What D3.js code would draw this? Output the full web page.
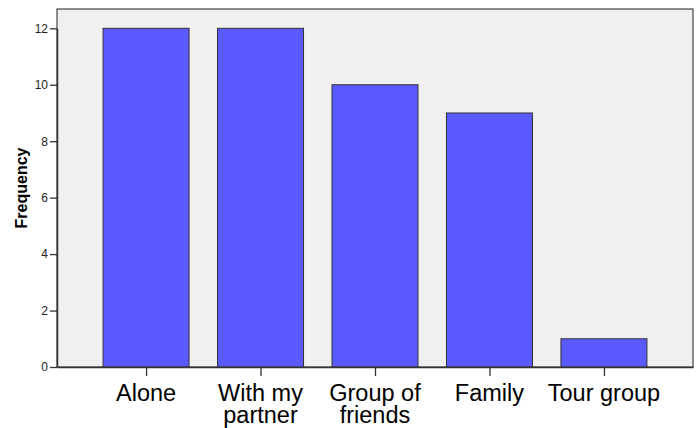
<!DOCTYPE html>
<html><head><meta charset="utf-8">
<script src="https://cdn.jsdelivr.net/npm/d3@7"></script>
<style>body{margin:0;background:#fff;}svg{display:block;}</style>
</head><body>
<script>
const categories = ["Alone", "With my partner", "Group of friends", "Family", "Tour group"];
const categoryLines = [["Alone"], ["With my", "partner"], ["Group of", "friends"], ["Family"], ["Tour group"]];
const frequencies = [12, 12, 10, 9, 1];
const yTicks = [0, 2, 4, 6, 8, 10, 12];

const W = 698, H = 428;
const L = 57, R = 693, T = 9, B = 367;
const svg = d3.select("body").append("svg").attr("width", W).attr("height", H);

const x = d3.scalePoint().domain(categories).range([L, R]).padding(0.778);
const y = d3.scaleLinear().domain([0, 12]).range([B, 28.3]);
const barW = 86;

svg.append("rect").attr("x", L).attr("y", T).attr("width", R - L).attr("height", B - T)
  .attr("fill", "#f0f0f0").attr("stroke", "#444").attr("stroke-width", 1.2);

svg.selectAll("rect.bar").data(frequencies).enter().append("rect").attr("class", "bar")
  .attr("x", (d, i) => x(categories[i]) - barW / 2)
  .attr("y", d => y(d))
  .attr("width", barW)
  .attr("height", d => B - y(d))
  .attr("fill", "#5a5aff").attr("stroke", "#333").attr("stroke-width", 1);

const yAxis = svg.append("g").attr("transform", `translate(${L},0)`)
  .call(d3.axisLeft(y).tickValues(yTicks).tickSize(7).tickSizeOuter(0).tickPadding(2).tickFormat(d3.format("d")));
yAxis.select(".domain").attr("stroke", "#333").attr("stroke-width", 1.5);
yAxis.selectAll(".tick line").attr("stroke", "#333").attr("stroke-width", 1.3);
yAxis.selectAll("text").attr("font-family", "Arial, 'Liberation Sans', sans-serif").attr("font-size", 12).attr("fill", "#222");

const xAxis = svg.append("g").attr("transform", `translate(0,${B})`)
  .call(d3.axisBottom(x).tickSize(9).tickSizeOuter(0).tickFormat(""));
xAxis.select(".domain").attr("stroke", "#333").attr("stroke-width", 1.5);
xAxis.selectAll(".tick line").attr("stroke", "#333").attr("stroke-width", 1.3);

svg.selectAll("text.xl").data(categories).enter().append("text").attr("class", "xl")
  .attr("x", d => x(d)).attr("y", 401)
  .attr("text-anchor", "middle")
  .attr("font-family", "Arial, 'Liberation Sans', sans-serif").attr("font-size", 23.5).attr("fill", "#000")
  .each(function(d, i) {
    const t = d3.select(this);
    categoryLines[i].forEach((ln, j) => {
      t.append("tspan").attr("x", x(d)).attr("dy", j === 0 ? 0 : 22).text(ln);
    });
  });

svg.append("text").attr("transform", `translate(27,188) rotate(-90)`)
  .attr("text-anchor", "middle")
  .attr("font-family", "Arial, 'Liberation Sans', sans-serif").attr("font-size", 16).attr("font-weight", "bold")
  .text("Frequency");
</script>
</body></html>
